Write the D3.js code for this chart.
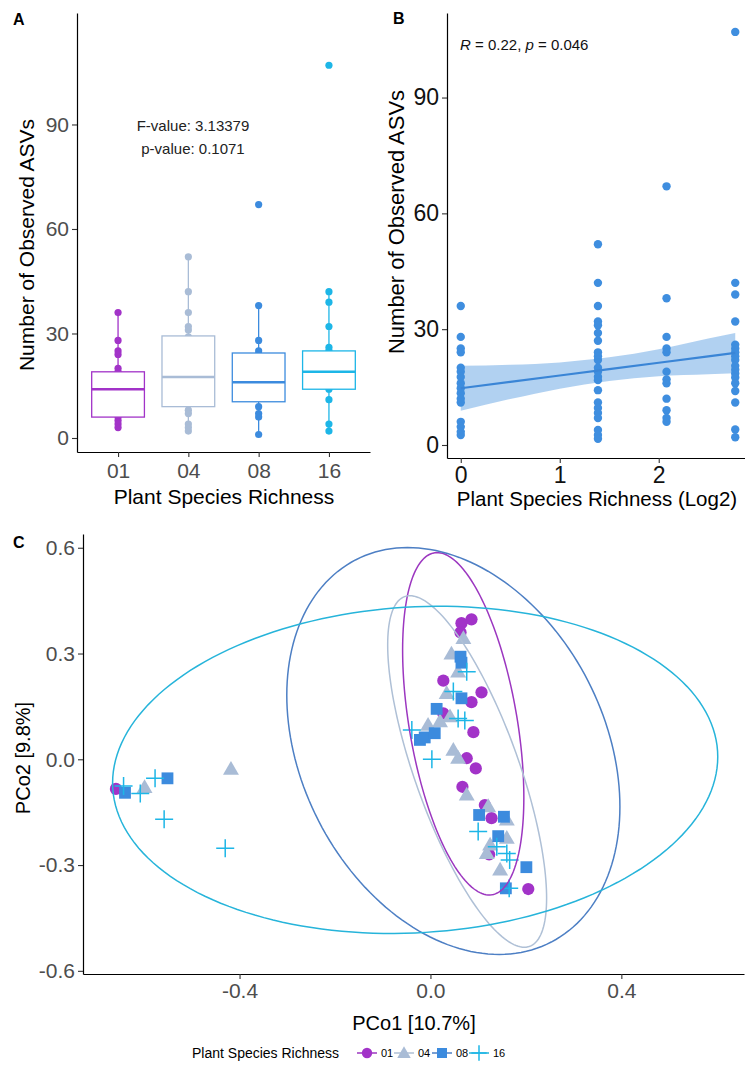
<!DOCTYPE html>
<html>
<head>
<meta charset="utf-8">
<script src="https://cdn.jsdelivr.net/npm/d3@7"></script>
<style>
  body { margin: 0; background: #fff; }
  svg { display: block; }
  text { font-family: "Liberation Sans", Arial, Helvetica, sans-serif; }
</style>
</head>
<body>
<svg id="fig" width="745" height="1065"></svg>
<script>
// ---- shared categories and colours ----
const groups = ["01", "04", "08", "16"];
const groupColors = ["#A233C8", "#A9BCD6", "#3C8BDE", "#1DB6E7"];
const ellipseColors = ["#9C37C0", "#AFC0D6", "#4D7FC4", "#26B4DA"];

// ---- Panel A: observed ASVs by plant species richness ----
const asvA01 = [36, 28, 25, 24, 20, 19, 17.6, 16, 14.7, 13.4, 12, 11, 6, 5, 4, 3];
const asvA04 = [52, 42, 36, 32, 31, 29, 27, 24, 23, 22, 20, 19, 17.7, 16.8, 14.2, 11, 9.6, 8, 7, 4, 3, 2];
const asvA08 = [67, 38, 28, 25, 24, 19, 17, 16, 12, 9, 7, 6, 1];
const asvA16 = [107, 42, 39, 32, 26, 25, 24, 23, 22, 20.5, 19.5, 18.5, 17.5, 16, 14, 11, 4, 2];
const boxLow = [3, 2, 1, 2];
const boxQ1 = [6, 9, 10.4, 14];
const boxMedian = [14, 17.5, 16, 19];
const boxQ3 = [19, 29.3, 24.4, 25];
const boxHigh = [36, 52, 38, 42];
const anovaLines = ["F-value: 3.13379", "p-value: 0.1071"];
const ticksA = [0, 30, 60, 90];

// ---- Panel B: observed ASVs against log richness ----
const logRichness = [0, 1.386, 2.079, 2.773];
const asvB01 = [36, 28, 25, 24, 20, 19, 17.6, 16, 14.7, 13.4, 12, 11, 6, 4.7, 3.4, 2.6];
const asvB04 = [52, 42, 36, 32, 31, 29, 27, 24, 23, 22, 20, 19, 17.7, 16.8, 14.2, 11, 9.6, 8.3, 7, 3.9, 2.6, 1.6];
const asvB08 = [67, 38, 28, 25, 24, 19, 17, 16, 12, 9, 7, 6];
const asvB16 = [107, 42, 39, 32, 26, 25, 24, 23, 22, 20.5, 19.5, 18.5, 17.5, 16, 14, 11, 4, 2];
const fitX = [0, 0.5, 1, 1.5, 2, 2.5, 2.773];
const fitY = [14.7, 16.35, 18.0, 19.65, 21.3, 22.95, 23.85];
const fitLow = [8.9, 11.9, 14.6, 16.6, 17.8, 18.3, 18.6];
const fitHigh = [20.5, 20.8, 21.4, 22.7, 24.8, 27.6, 29.0];
const ticksBx = [0, 1, 2];
const ticksBy = [0, 30, 60, 90];

// ---- Panel C: PCoA ordination ----
const pco01 = [[-0.659, -0.084], [0.086, 0.397], [0.065, 0.386], [0.063, 0.36], [0.027, 0.223],
  [0.107, 0.190], [0.086, 0.162], [0.027, 0.130], [0.090, 0.077], [0.076, 0.003], [0.095, -0.026],
  [0.067, -0.078], [0.114, -0.130], [0.128, -0.167], [0.123, -0.27], [0.205, -0.368]];
const pco04 = [[-0.599, -0.080], [-0.418, -0.028], [-0.005, 0.097], [0.069, 0.343], [0.044, 0.299],
  [0.058, 0.248], [0.034, 0.187], [0.041, 0.121], [0.020, 0.107], [0.048, 0.026], [0.058, 0.003],
  [0.076, -0.101], [0.121, -0.134], [0.160, -0.172], [0.160, -0.224], [0.125, -0.243],
  [0.118, -0.267], [0.146, -0.314]];
const pco08 = [[-0.640, -0.095], [-0.551, -0.054], [0.013, 0.143], [-0.022, 0.055], [-0.012, 0.062],
  [0.063, 0.291], [0.065, 0.274], [0.065, 0.173], [0.009, 0.074], [0.102, -0.158], [0.154, -0.163],
  [0.142, -0.218], [0.201, -0.306], [0.158, -0.366]];
const pco16 = [[-0.643, -0.076], [-0.608, -0.097], [-0.577, -0.054], [-0.558, -0.170], [-0.430, -0.252],
  [-0.039, 0.083], [0.003, 0.0], [0.076, 0.248], [0.048, 0.192], [0.058, 0.116], [0.072, 0.110],
  [0.100, -0.205], [0.139, -0.248], [0.160, -0.267], [0.166, -0.286], [0.165, -0.366]];
// 95% ellipse per group: centre, half-extent along each axis, correlation
const ellCx = [0.0687, 0.0769, 0.048, -0.032];
const ellCy = [0.1007, -0.0346, 0.0235, -0.030];
const ellSx = [0.127, 0.1665, 0.349, 0.634];
const ellSy = [0.4855, 0.4986, 0.577, 0.464];
const ellRho = [-0.43, -0.72, -0.274, 0.08];
const ticksCx = [-0.4, 0.0, 0.4];
const ticksCy = [-0.6, -0.3, 0.0, 0.3, 0.6];

const svg = d3.select("#fig");
const tickColor = "#4D4D4D";

function styleAxis(g, fontSize) {
  g.select(".domain").attr("stroke", "#000").attr("stroke-width", 1.2);
  g.selectAll(".tick line").attr("stroke", "#333").attr("stroke-width", 1.1);
  g.selectAll(".tick text").attr("fill", tickColor).style("font-size", fontSize + "px")
    .style("font-family", "'Liberation Sans', Arial, sans-serif");
}

// ================= Panel A =================
const xA = d3.scalePoint().domain(groups).range([77, 370]).padding(0.584);
const yA = d3.scaleLinear().domain([-4.02, 122]).range([452, 13]);
const gA = svg.append("g");
const asvA = [asvA01, asvA04, asvA08, asvA16];
const halfBox = xA.step() * 0.375;

// whiskers
groups.forEach((g, i) => {
  const cx = xA(g);
  gA.append("line").attr("x1", cx).attr("x2", cx).attr("y1", yA(boxQ3[i])).attr("y2", yA(boxHigh[i]))
    .attr("stroke", groupColors[i]).attr("stroke-width", 1.3);
  gA.append("line").attr("x1", cx).attr("x2", cx).attr("y1", yA(boxQ1[i])).attr("y2", yA(boxLow[i]))
    .attr("stroke", groupColors[i]).attr("stroke-width", 1.3);
});
// observations
groups.forEach((g, i) => {
  gA.append("g").selectAll("circle").data(asvA[i]).join("circle")
    .attr("cx", xA(g)).attr("cy", d => yA(d)).attr("r", 3.6).attr("fill", groupColors[i]);
});
// boxes and medians
groups.forEach((g, i) => {
  const cx = xA(g);
  gA.append("rect").attr("x", cx - halfBox).attr("width", halfBox * 2)
    .attr("y", yA(boxQ3[i])).attr("height", yA(boxQ1[i]) - yA(boxQ3[i]))
    .attr("fill", "#fff").attr("stroke", groupColors[i]).attr("stroke-width", 1.3);
  gA.append("line").attr("x1", cx - halfBox).attr("x2", cx + halfBox)
    .attr("y1", yA(boxMedian[i])).attr("y2", yA(boxMedian[i]))
    .attr("stroke", groupColors[i]).attr("stroke-width", 2.6);
});
const axAy = gA.append("g").attr("transform", "translate(77,0)")
  .call(d3.axisLeft(yA).tickValues(ticksA).tickSize(5).tickSizeOuter(0).tickPadding(3));
styleAxis(axAy, 21);
const axAx = gA.append("g").attr("transform", "translate(0,452)")
  .call(d3.axisBottom(xA).tickSize(5).tickSizeOuter(0).tickPadding(6));
styleAxis(axAx, 21);
gA.append("text").attr("x", 224).attr("y", 504).attr("text-anchor", "middle")
  .style("font-size", "21px").text("Plant Species Richness");
gA.append("text").attr("transform", "translate(34,245) rotate(-90)").attr("text-anchor", "middle")
  .style("font-size", "21px").text("Number of Observed ASVs");
anovaLines.forEach((t, i) => {
  gA.append("text").attr("x", 193).attr("y", 131 + i * 23).attr("text-anchor", "middle")
    .style("font-size", "15px").attr("fill", "#222").text(t);
});
gA.append("text").attr("x", 13).attr("y", 25).style("font-size", "16px").style("font-weight", "bold").text("A");

// ================= Panel B =================
const xB = d3.scaleLinear().domain([-0.139, 2.912]).range([447, 749]);
const yB = d3.scaleLinear().domain([-3.37, 111.9]).range([458, 13]);
const gB = svg.append("g");
const asvB = [asvB01, asvB04, asvB08, asvB16];
const bandPts = fitX.map((x, i) => ({ x, lo: fitLow[i], hi: fitHigh[i], y: fitY[i] }));

asvB.forEach((vals, i) => {
  gB.append("g").selectAll("circle").data(vals).join("circle")
    .attr("cx", xB(logRichness[i])).attr("cy", d => yB(d)).attr("r", 4.2).attr("fill", "#3F8EDF");
});
gB.append("path").datum(bandPts)
  .attr("d", d3.area().x(d => xB(d.x)).y0(d => yB(d.lo)).y1(d => yB(d.hi)).curve(d3.curveMonotoneX))
  .attr("fill", "#3D8BDD").attr("fill-opacity", 0.4);
gB.append("path").datum(bandPts)
  .attr("d", d3.line().x(d => xB(d.x)).y(d => yB(d.y)))
  .attr("fill", "none").attr("stroke", "#3A85D6").attr("stroke-width", 2.2);
const axBy = gB.append("g").attr("transform", "translate(447,0)")
  .call(d3.axisLeft(yB).tickValues(ticksBy).tickSize(5).tickSizeOuter(0).tickPadding(3));
styleAxis(axBy, 23);
axBy.selectAll(".tick text").attr("fill", "#111");
const axBx = gB.append("g").attr("transform", "translate(0,458)")
  .call(d3.axisBottom(xB).tickValues(ticksBx).tickFormat(d3.format("d")).tickSize(5).tickSizeOuter(0).tickPadding(4));
styleAxis(axBx, 23);
axBx.selectAll(".tick text").attr("fill", "#111");
gB.append("text").attr("x", 597).attr("y", 506).attr("text-anchor", "middle")
  .style("font-size", "20.5px").text("Plant Species Richness (Log2)");
gB.append("text").attr("transform", "translate(404,222) rotate(-90)").attr("text-anchor", "middle")
  .style("font-size", "22px").text("Number of Observed ASVs");
const corr = gB.append("text").attr("x", 460).attr("y", 50).style("font-size", "15px").attr("fill", "#111");
corr.append("tspan").style("font-style", "italic").text("R");
corr.append("tspan").text(" = 0.22, ");
corr.append("tspan").style("font-style", "italic").text("p");
corr.append("tspan").text(" = 0.046");
gB.append("text").attr("x", 393).attr("y", 24).style("font-size", "16px").style("font-weight", "bold").text("B");

// ================= Panel C =================
const xC = d3.scaleLinear().domain([-0.728, 0.657]).range([83, 744]);
const yC = d3.scaleLinear().domain([-0.609, 0.639]).range([974, 534]);
const gC = svg.append("g");
const pcoData = [pco01, pco04, pco08, pco16];

function drawSymbol(sel, i, x, y, scale) {
  const s = scale || 1;
  if (i === 3) {
    const a = 9 * s;
    sel.append("path").attr("d", `M${x - a},${y}H${x + a}M${x},${y - a}V${y + a}`)
      .attr("stroke", groupColors[i]).attr("stroke-width", 1.5).attr("fill", "none");
  } else {
    const type = [d3.symbolCircle, d3.symbolTriangle, d3.symbolSquare][i];
    const size = [118, 110, 140][i] * s * s;
    sel.append("path").attr("d", d3.symbol(type, size)())
      .attr("transform", `translate(${x},${y + (i === 1 ? 1 : 0)})`)
      .attr("fill", groupColors[i]);
  }
}

pcoData.forEach((pts, i) => {
  const g = gC.append("g");
  pts.forEach(p => drawSymbol(g, i, xC(p[0]), yC(p[1])));
});

const tSteps = d3.range(0, 2 * Math.PI + 0.001, Math.PI / 90);
groups.forEach((g, i) => {
  const ring = tSteps.map(t => [
    ellCx[i] + ellSx[i] * Math.cos(t),
    ellCy[i] + ellSy[i] * (ellRho[i] * Math.cos(t) + Math.sqrt(1 - ellRho[i] * ellRho[i]) * Math.sin(t))
  ]);
  gC.append("path").datum(ring)
    .attr("d", d3.line().x(d => xC(d[0])).y(d => yC(d[1])).curve(d3.curveLinearClosed))
    .attr("fill", "none").attr("stroke", ellipseColors[i]).attr("stroke-width", 1.5);
});

const axCy = gC.append("g").attr("transform", "translate(83,0)")
  .call(d3.axisLeft(yC).tickValues(ticksCy).tickFormat(d => d.toFixed(1)).tickSize(5).tickSizeOuter(0).tickPadding(3));
styleAxis(axCy, 21);
const axCx = gC.append("g").attr("transform", "translate(0,974)")
  .call(d3.axisBottom(xC).tickValues(ticksCx).tickFormat(d => d.toFixed(1)).tickSize(5).tickSizeOuter(0).tickPadding(4));
styleAxis(axCx, 21);
gC.append("text").attr("x", 414).attr("y", 1030).attr("text-anchor", "middle")
  .style("font-size", "20px").text("PCo1 [10.7%]");
gC.append("text").attr("transform", "translate(30,758) rotate(-90)").attr("text-anchor", "middle")
  .style("font-size", "20px").text("PCo2 [9.8%]");
gC.append("text").attr("x", 13).attr("y", 548).style("font-size", "16px").style("font-weight", "bold").text("C");

// legend
const leg = svg.append("g").attr("transform", "translate(0,1053)");
leg.append("text").attr("x", 192).attr("y", 5).style("font-size", "14px").text("Plant Species Richness");
const keyX = [367, 404, 442, 479];
groups.forEach((g, i) => {
  leg.append("line").attr("x1", keyX[i] - 10).attr("x2", keyX[i] + 10).attr("y1", 0).attr("y2", 0)
    .attr("stroke", ellipseColors[i]).attr("stroke-width", 1.5);
  drawSymbol(leg, i, keyX[i], 0, 0.85);
  leg.append("text").attr("x", keyX[i] + 14).attr("y", 4).style("font-size", "11px").text(g);
});
</script>
</body>
</html>
